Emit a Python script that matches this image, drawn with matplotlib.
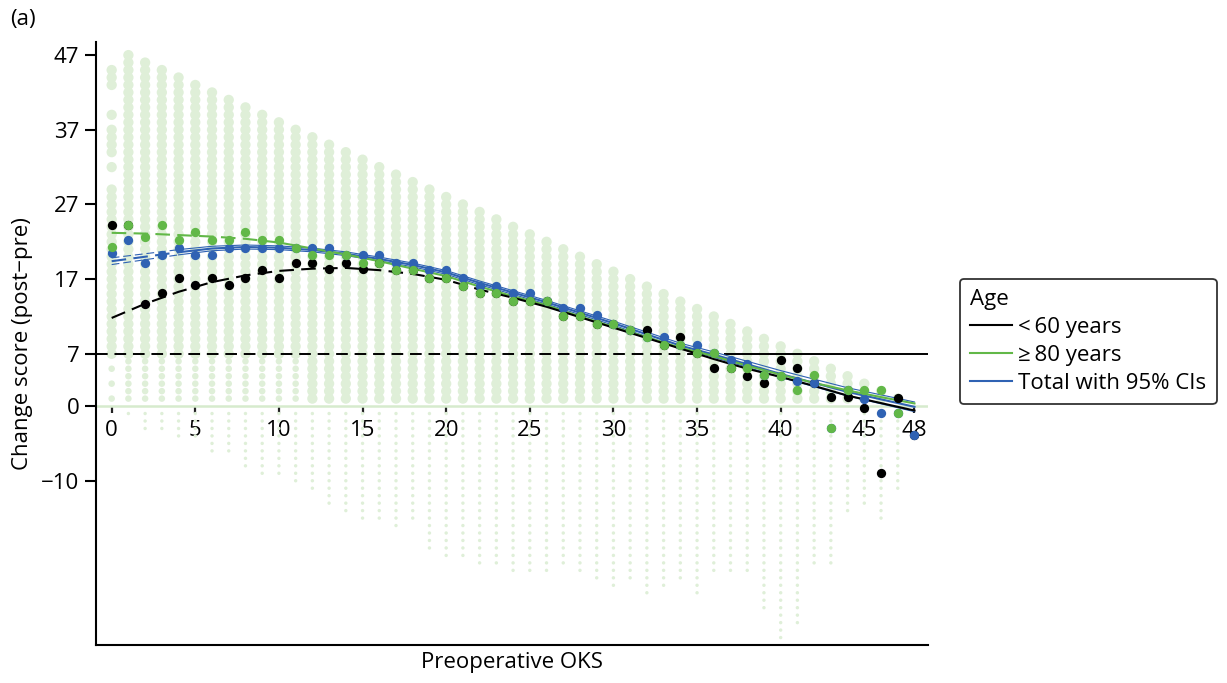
import matplotlib
matplotlib.use("Agg")
import matplotlib.pyplot as plt
import numpy as np
from matplotlib.lines import Line2D

plt.rcParams['font.family'] = ['Open Sans', 'DejaVu Sans']

# Preoperative OKS values
oks = np.arange(0, 49)

# Mean change score by preoperative OKS (nan where no mean is shown)
mean_under60 = [24.3, 24.3, 13.7, 15.1, 17.2, 16.2, 17.2, 16.2, 17.1, 18.2,
                17.2, 19.2, 19.2, 18.3, 19.2, 18.3, 19.2, 18.2, 18.2, 17.1,
                17.1, 16.1, 15.1, 15.1, 14.1, 14.1, 14.1, 12.1, 12.1, 11.0,
                11.0, 10.2, 10.2, 8.2, 9.2, 7.1, 5.1, 5.1, 4.0, 3.1,
                6.2, 5.1, 3.1, 1.2, 1.2, -0.3, -8.9, 1.1, -3.9]
mean_80plus = [21.3, 24.3, 22.7, 24.3, 22.2, 23.3, 22.2, 22.2, 23.3, 22.2,
               22.2, 21.2, 20.2, 20.2, 20.2, 19.2, 19.2, 18.2, 18.2, 17.1,
               17.1, 16.1, 15.1, 15.1, 14.1, 14.1, 14.1, 12.1, 12.1, 11.0,
               11.0, 10.2, 9.2, 8.2, 8.2, 7.1, 7.1, 5.1, 5.1, 4.2,
               4.0, 2.1, 4.2, -2.9, 2.1, 2.1, 2.1, -0.9, np.nan]
mean_total = [20.5, 22.2, 19.2, 20.2, 21.2, 20.2, 20.2, 21.2, 21.2, 21.2,
              21.2, 21.2, 21.2, 21.2, 20.2, 20.2, 20.2, 19.2, 19.2, 18.2,
              18.2, 17.1, 16.1, 16.1, 15.2, 15.2, 14.1, 13.2, 13.2, 12.2,
              11.0, 10.2, 9.2, 9.2, 8.2, 8.2, 7.1, 6.2, 5.7, 4.2,
              4.0, 3.3, 3.1, -2.9, 2.1, 1.0, -0.9, -0.9, -3.9]

# Fitted curves read at even OKS values
fit_x = np.arange(0, 49, 2)
fit_under60 = [11.8, 13.7, 15.3, 16.6, 17.5, 18.1, 18.4, 18.5, 18.2, 17.7,
               16.9, 15.6, 14.5, 13.3, 11.9, 10.5, 9.1, 7.7, 6.3, 5.0,
               3.9, 2.7, 1.4, 0.4, -0.6]
fit_80plus = [23.2, 23.1, 22.9, 22.7, 22.4, 21.9, 21.1, 20.3, 19.4, 18.4,
              17.4, 16.0, 14.7, 13.5, 12.0, 10.6, 9.2, 7.8, 6.7, 5.4,
              4.2, 3.1, 2.1, 1.2, 0.35]
fit_total = [19.4, 20.0, 20.6, 21.1, 21.3, 21.2, 20.9, 20.4, 19.7, 18.9,
             17.9, 16.5, 15.2, 13.9, 12.5, 11.1, 9.6, 8.1, 6.9, 5.6,
             4.3, 3.1, 1.9, 0.9, -0.1]
ci_half = [0.45, 0.4, 0.35, 0.3, 0.27, 0.25, 0.25, 0.25, 0.25, 0.25,
           0.25, 0.25, 0.25, 0.25, 0.25, 0.27, 0.3, 0.32, 0.35, 0.4,
           0.45, 0.5, 0.55, 0.6, 0.65]

# Range of individual change scores per preoperative OKS (0..47)
col_max = [45, 47, 46, 45, 44, 43, 42, 41, 40, 39, 38, 37, 36, 35, 34, 33,
           32, 31, 30, 29, 28, 27, 26, 25, 24, 23, 22, 21, 20, 19, 18, 17,
           16, 15, 14, 13, 12, 11, 10, 9, 8, 7, 6, 5, 4, 3, 2, 1]
col_min = [1, -1, -3, -3, -4, -4, -6, -6, -8, -9, -9, -10, -11, -13, -14, -15,
           -15, -16, -15, -19, -20, -20, -21, -21, -22, -22, -22, -21, -22, -23,
           -24, -23, -25, -24, -23, -25, -22, -22, -22, -27, -31, -29, -21, -21,
           -14, -13, -15, -11]
col0_values = [1, 3, 5, 7, 8, 9, 10, 11, 12, 13, 14, 15, 16, 17, 18, 19, 20,
               21, 22, 23, 24, 25, 26, 27, 28, 29, 32, 34, 35, 36, 37, 39, 43,
               44, 45]

MCID = 7
groups = ['<\u200960 years', '\u2265\u200980 years', 'Total with 95% CIs']

c_bg = '#dfefd8'
c_black = '#000000'
c_green = '#62b848'
c_blue = '#2f62b3'
FS = 16

fig = plt.figure(figsize=(12.27, 6.83), dpi=100)
ax = fig.add_axes([0.0782, 0.0556, 0.678, 0.8834])
ymin, ymax = -32.0, 48.8
ax.set_xlim(-0.94, 48.8)
ax.set_ylim(ymin, ymax)

# background scatter of individual scores
bx, by, bs = [], [], []
for i in range(len(col_max)):
    if i == 0:
        vals = col0_values
    else:
        vals = [v for v in range(col_min[i], col_max[i] + 1) if v != 0]
    for v in vals:
        bx.append(i)
        by.append(v)
        if v < 0:
            bs.append(6)
        elif v < MCID and i <= 11:
            bs.append(22)
        else:
            bs.append(55)
ax.scatter(bx, by, s=bs, color=c_bg, linewidths=0, zorder=1)

ax.axhline(0, color='#d6ebcd', lw=1.8, zorder=1.5)

# reference line at 7
ax.hlines(MCID, -0.94, 36.6, colors='black', linestyles=(0, (6, 3.5)), lw=1.4, zorder=2)
ax.hlines(MCID, 36.6, 48.8, colors='black', lw=1.4, zorder=2)

def split_plot(xs, ys, split, color, lw, z):
    xs = np.asarray(xs)
    ys = np.asarray(ys)
    m1 = xs <= split
    m2 = xs >= split
    ax.plot(xs[m1], ys[m1], color=color, lw=lw, dashes=(7, 3.5), zorder=z)
    ax.plot(xs[m2], ys[m2], color=color, lw=lw, zorder=z)

ft = np.array(fit_total)
ch = np.array(ci_half)
split_plot(fit_x, ft - ch, 4, c_blue, 0.8, 3)
split_plot(fit_x, ft + ch, 4, c_blue, 0.8, 3)
split_plot(fit_x, fit_total, 4, c_blue, 1.5, 3)
split_plot(fit_x, fit_80plus, 10, c_green, 1.5, 3.1)
split_plot(fit_x, fit_under60, 24, c_black, 1.5, 3.2)

ax.plot(oks, mean_under60, 'o', color=c_black, ms=6.7, mew=0, zorder=4)
ax.plot(oks, mean_total, 'o', color=c_blue, ms=6.7, mew=0, zorder=4.1)
ax.plot(oks, mean_80plus, 'o', color=c_green, ms=6.7, mew=0, zorder=4.2)

# axes styling
for s in ['top', 'right']:
    ax.spines[s].set_visible(False)
ax.spines['left'].set_linewidth(1.5)
ax.spines['bottom'].set_linewidth(1.5)
ax.set_xticks([])
ax.set_yticks([47, 37, 27, 17, 7, 0, -10])
ax.tick_params(axis='y', direction='out', length=8, width=1.5, labelsize=FS, pad=4)
ax.set_ylabel('Change score (post\u2212pre)', fontsize=FS, labelpad=6)
ax.set_xlabel('Preoperative OKS', fontsize=FS, labelpad=5)

# x ticks sitting on the zero line
sec = ax.secondary_xaxis((0 - ymin) / (ymax - ymin))
sec.spines['bottom'].set_visible(False)
sec.set_xticks([0, 5, 10, 15, 20, 25, 30, 35, 40, 45, 48])
sec.tick_params(direction='out', length=5, width=1.6, color='#222222', labelsize=FS, pad=5)

fig.text(0.008, 0.972, '(a)', fontsize=FS, va='center')

handles = [Line2D([], [], color=c_black, lw=1.5),
           Line2D([], [], color=c_green, lw=1.5),
           Line2D([], [], color=c_blue, lw=1.5)]
leg = fig.legend(handles, groups, title='Age', loc='upper left',
                 bbox_to_anchor=(0.782, 0.592), fontsize=FS, title_fontsize=FS,
                 frameon=True, fancybox=True, handlelength=1.9, handletextpad=0.3,
                 labelspacing=0.32, borderpad=0.45, borderaxespad=0)
leg._legend_box.align = 'left'
leg.get_frame().set_edgecolor('black')
leg.get_frame().set_linewidth(1.3)

fig.savefig('out.png', dpi=100)
